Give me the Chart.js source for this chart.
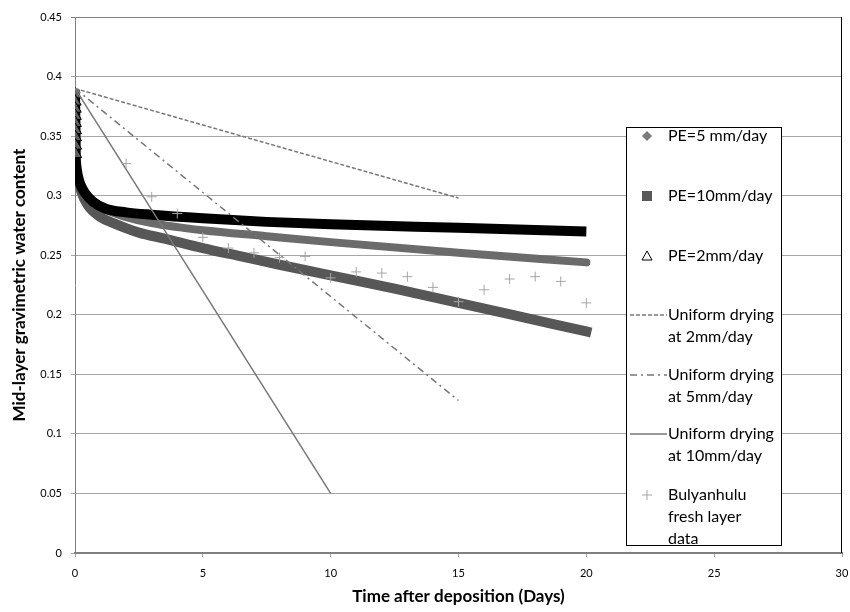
<!DOCTYPE html>
<html>
<head>
<meta charset="utf-8">
<script src="https://cdn.jsdelivr.net/npm/chart.js@4/dist/chart.umd.min.js"></script>
<style>
  body { margin: 0; background: #fff; }
  canvas { display: block; }
</style>
</head>
<body>
<canvas id="dryChart" width="850" height="612"></canvas>
<script>
// valores
const pe5Days = [0, 0.02, 0.1, 0.2, 0.4, 0.7, 1.2, 2, 3, 5, 7.5, 10, 15, 20];
const pe5Theta = [0.385, 0.33, 0.318, 0.31, 0.301, 0.294, 0.288, 0.282, 0.277, 0.271, 0.266, 0.261, 0.252, 0.244];

const pe10Days = [0, 0.02, 0.1, 0.25, 0.5, 1, 1.5, 2.5, 3.5, 5, 6.5, 8, 10, 12.5, 15, 17.5, 20];
const pe10Theta = [0.385, 0.33, 0.315, 0.303, 0.292, 0.282, 0.277, 0.269, 0.264, 0.256, 0.249, 0.242, 0.233, 0.222, 0.21, 0.198, 0.186];

const pe2Days = [0, 0.003, 0.006, 0.009, 0.012, 0.015, 0.018, 0.021, 0.024, 0.04, 0.1, 0.2, 0.4, 0.7, 1.2, 2, 3, 5, 7.5, 10, 15, 20];
const pe2Theta = [0.385, 0.379, 0.373, 0.367, 0.361, 0.355, 0.349, 0.342, 0.335, 0.328, 0.318, 0.31, 0.302, 0.295, 0.289, 0.286, 0.284, 0.281, 0.278, 0.276, 0.273, 0.270];

const uni2Days = [0, 15];
const uni2Theta = [0.39, 0.298];
const uni5Days = [0, 15];
const uni5Theta = [0.39, 0.128];
const uni10Days = [0, 10];
const uni10Theta = [0.39, 0.05];

const fieldDays = [2, 3, 4, 5, 6, 7, 8, 9, 10, 11, 12, 13, 14, 15, 16, 17, 18, 19, 20];
const fieldTheta = [0.327, 0.299, 0.285, 0.265, 0.256, 0.252, 0.248, 0.249, 0.231, 0.236, 0.235, 0.232, 0.223, 0.211, 0.221, 0.230, 0.232, 0.228, 0.210];

const xTicks = [0, 5, 10, 15, 20, 25, 30];
const yTicks = [0, 0.05, 0.1, 0.15, 0.2, 0.25, 0.3, 0.35, 0.4, 0.45];

const legendLabels = [
    ['PE=5 mm/day'],
    ['PE=10mm/day'],
    ['PE=2mm/day'],
    ['Uniform drying', 'at 2mm/day'],
    ['Uniform drying', 'at 5mm/day'],
    ['Uniform drying', 'at 10mm/day'],
    ['Bulyanhulu', 'fresh layer', 'data']
];

const FONT = 'Lato, "Open Sans", sans-serif';

function pts(xs, ys) {
    return xs.map((x, i) => ({ x: x, y: ys[i] }));
}

// Leyenda dibujada encima del área del gráfico
const legendBox = {
    id: 'legendBox',
    afterDraw(chart) {
        const ctx = chart.ctx;
        const left = 626, top = 127, right = 781, bottom = 545;
        const rowY = [136, 196, 256, 315, 375, 434, 495];
        const mx = 647, tx = 668;
        ctx.save();
        ctx.fillStyle = '#fff';
        ctx.fillRect(left, top, right - left, bottom - top);
        ctx.strokeStyle = '#000';
        ctx.lineWidth = 1;
        ctx.strokeRect(left + 0.5, top + 0.5, right - left, bottom - top);

        // diamante
        ctx.fillStyle = '#7a7a7a';
        ctx.beginPath();
        ctx.moveTo(mx, rowY[0] - 5); ctx.lineTo(mx + 5, rowY[0]);
        ctx.lineTo(mx, rowY[0] + 5); ctx.lineTo(mx - 5, rowY[0]);
        ctx.closePath(); ctx.fill();
        // cuadrado
        ctx.fillStyle = '#595959';
        ctx.fillRect(mx - 5, rowY[1] - 5, 10, 10);
        // triangulo
        ctx.strokeStyle = '#000';
        ctx.beginPath();
        ctx.moveTo(mx, rowY[2] - 5); ctx.lineTo(mx + 5, rowY[2] + 4);
        ctx.lineTo(mx - 5, rowY[2] + 4); ctx.closePath(); ctx.stroke();
        // lineas
        const lines = [[rowY[3], [4, 2]], [rowY[4], [7, 4, 2, 4]], [rowY[5], []]];
        ctx.strokeStyle = '#777';
        ctx.lineWidth = 1.5;
        lines.forEach(l => {
            ctx.setLineDash(l[1]);
            ctx.beginPath();
            ctx.moveTo(630, l[0]); ctx.lineTo(667, l[0]);
            ctx.stroke();
        });
        ctx.setLineDash([]);
        // cruz
        ctx.strokeStyle = '#a6a6a6';
        ctx.lineWidth = 1;
        ctx.beginPath();
        ctx.moveTo(mx - 5, rowY[6]); ctx.lineTo(mx + 5, rowY[6]);
        ctx.moveTo(mx, rowY[6] - 5); ctx.lineTo(mx, rowY[6] + 5);
        ctx.stroke();

        // textos
        ctx.fillStyle = '#000';
        ctx.font = '16px ' + FONT;
        ctx.textBaseline = 'middle';
        legendLabels.forEach((lab, i) => {
            lab.forEach((t, j) => ctx.fillText(t, tx, rowY[i] + j * 22));
        });
        ctx.restore();
    }
};

// borde derecho negro del área
const rightBorder = {
    id: 'rightBorder',
    beforeDatasetsDraw(chart) {
        const a = chart.chartArea, ctx = chart.ctx;
        ctx.save();
        ctx.strokeStyle = '#000';
        ctx.lineWidth = 1;
        ctx.beginPath();
        ctx.moveTo(a.right - 0.5, a.top);
        ctx.lineTo(a.right - 0.5, a.bottom);
        ctx.stroke();
        ctx.restore();
    }
};

const ctx = document.getElementById('dryChart').getContext('2d');
new Chart(ctx, {
    type: 'scatter',
    data: {
        datasets: [
            {
                label: 'PE=5 mm/day', data: pts(pe5Days, pe5Theta), showLine: true, order: 6,
                borderColor: '#6b6b6b', borderWidth: 8, pointRadius: 0,
                cubicInterpolationMode: 'monotone', borderCapStyle: 'round'
            },
            {
                label: 'PE=10mm/day', data: pts(pe10Days, pe10Theta), showLine: true, order: 5,
                borderColor: '#575757', borderWidth: 10, pointRadius: 0,
                cubicInterpolationMode: 'monotone', borderCapStyle: 'square'
            },
            {
                label: 'PE=2mm/day', data: pts(pe2Days, pe2Theta), showLine: true, order: 4,
                borderColor: '#000', borderWidth: 10,
                pointStyle: 'triangle', backgroundColor: '#606060', pointBorderColor: '#000', pointBorderWidth: 1,
                pointRadius: c => (c.raw && c.raw.x < 0.03 ? 7 : 0),
                cubicInterpolationMode: 'monotone'
            },
            {
                label: 'Uniform drying at 2mm/day', data: pts(uni2Days, uni2Theta), showLine: true, order: 3,
                borderColor: '#777', borderWidth: 1.5, borderDash: [4, 2], pointRadius: 0
            },
            {
                label: 'Uniform drying at 5mm/day', data: pts(uni5Days, uni5Theta), showLine: true, order: 2,
                borderColor: '#777', borderWidth: 1.5, borderDash: [7, 4, 2, 4], pointRadius: 0
            },
            {
                label: 'Uniform drying at 10mm/day', data: pts(uni10Days, uni10Theta), showLine: true, order: 1,
                borderColor: '#777', borderWidth: 1.5, pointRadius: 0
            },
            {
                label: 'Bulyanhulu fresh layer data', data: pts(fieldDays, fieldTheta), order: 0,
                pointStyle: 'cross', pointRadius: 5, borderColor: '#a6a6a6', borderWidth: 1
            }
        ]
    },
    options: {
        responsive: false,
        animation: false,
        layout: { padding: { left: 0, top: 17, right: 0, bottom: 0 } },
        plugins: { legend: { display: false }, tooltip: { enabled: false } },
        scales: {
            x: {
                type: 'linear', min: 0, max: 30,
                afterBuildTicks: s => { s.ticks = xTicks.map(v => ({ value: v })); },
                afterFit: s => { s.height = 59; s.paddingRight = 6; s.paddingLeft = 0; },
                grid: { drawOnChartArea: false, drawTicks: true, tickLength: 4, color: '#a6a6a6' },
                border: { color: '#808080', width: 2 },
                ticks: { font: { family: FONT, size: 11 }, color: '#000', padding: 10, maxRotation: 0 },
                title: {
                    display: true, text: 'Time after deposition (Days)',
                    font: { family: FONT, size: 17, weight: 'bold' }, color: '#000',
                    padding: { top: 0, bottom: 5 }
                }
            },
            y: {
                min: 0, max: 0.45,
                afterBuildTicks: s => { s.ticks = yTicks.map(v => ({ value: v })); },
                afterFit: s => { s.width = 75; },
                grid: {
                    tickLength: 4,
                    color: c => (c.tick && c.tick.value === 0.45 ? '#808080' : '#a6a6a6')
                },
                border: { color: '#808080', width: 1 },
                ticks: {
                    font: { family: FONT, size: 11 }, color: '#000', padding: 9,
                    callback: v => String(Math.round(v * 100) / 100)
                },
                title: {
                    display: true, text: 'Mid-layer gravimetric water content',
                    font: { family: FONT, size: 17, weight: 'bold' }, color: '#000',
                    padding: { top: 9, bottom: 0 }
                }
            }
        }
    },
    plugins: [rightBorder, legendBox]
});
</script>
</body>
</html>
